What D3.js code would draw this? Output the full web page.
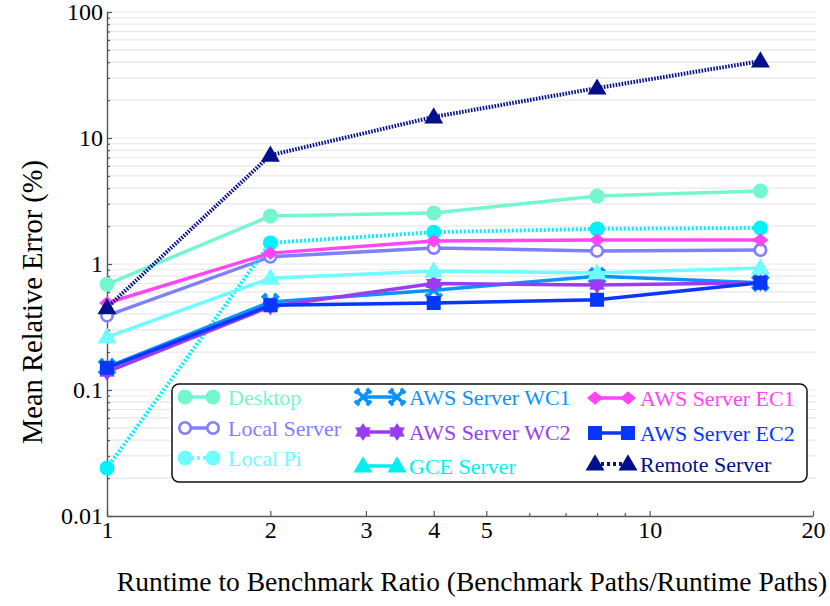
<!DOCTYPE html>
<html>
<head>
<meta charset="utf-8">
<script src="https://cdn.jsdelivr.net/npm/d3@7"></script>
<style>
  body { margin: 0; background: #fff; }
</style>
</head>
<body>
<svg id="chart"></svg>
<script>
// runtime to benchmark ratio
const ratios = [1, 2, 4, 8, 16]

const desktop      = [0.69, 2.40, 2.54, 3.46, 3.80]
const localServer  = [0.39, 1.14, 1.34, 1.27, 1.29]
const localPi      = [0.024, 1.47, 1.79, 1.90, 1.93]
const awsWC1       = [0.152, 0.50, 0.62, 0.80, 0.71]
const awsWC2       = [0.139, 0.46, 0.70, 0.68, 0.71]
const gceServer    = [0.263, 0.77, 0.88, 0.85, 0.93]
const awsEC1       = [0.49, 1.22, 1.52, 1.55, 1.55]
const awsEC2       = [0.15, 0.47, 0.49, 0.52, 0.71]
const remoteServer = [0.45, 7.3, 14.7, 24.9, 40.8]

const seriesNames = ["Desktop", "Local Server", "Local Pi", "AWS Server WC1", "AWS Server WC2",
  "GCE Server", "AWS Server EC1", "AWS Server EC2", "Remote Server"]

const yMajor = [0.01, 0.1, 1, 10, 100]
const xLabels = [1, 2, 3, 4, 5, 10, 20]
const xMinor = [6, 7, 8, 9]

const svgWidth = 830, svgHeight = 606
const serif = "Liberation Serif"

// custom marker shapes (size = approx width in px)
const shapes = {
  circle: (s) => d3.symbol(d3.symbolCircle, Math.PI * (s / 2) * (s / 2))(),
  triangle: (s) => {
    const h = s * 0.85
    return `M0,${-h * 0.6}L${s / 2},${h * 0.4}L${-s / 2},${h * 0.4}Z`
  },
  square: (s) => `M${-s / 2},${-s / 2}h${s}v${s}h${-s}Z`,
  diamond: (s) => `M0,${-s * 0.42}L${s / 2},0L0,${s * 0.42}L${-s / 2},0Z`,
  star6: (s) => {
    const r = s / 2, p = []
    for (let i = 0; i < 12; i++) {
      const a = Math.PI / 6 * i - Math.PI / 2
      const rr = i % 2 === 0 ? r : r * 0.6
      p.push([rr * Math.cos(a), rr * Math.sin(a)])
    }
    return "M" + p.map(d => d.join(",")).join("L") + "Z"
  },
  cross: (s) => {
    const r = s / 2 - 1.5, e = 2.2
    return `M${-r},${-r}L${r},${r}M${r},${-r}L${-r},${r}` +
      `M${-r - e},${-r + e}L${-r + e},${-r - e}M${r - e},${-r - e}L${r + e},${-r + e}` +
      `M${-r - e},${r - e}L${-r + e},${r + e}M${r - e},${r + e}L${r + e},${r - e}`
  }
}

const series = [
  { name: seriesNames[0], values: desktop, color: "#74f6d0", legendColor: "#74f6d0", shape: "circle", size: 15, dash: null },
  { name: seriesNames[1], values: localServer, color: "#7f7fff", legendColor: "#7f7fff", shape: "circle", size: 14, dash: null, open: true },
  { name: seriesNames[2], values: localPi, color: "#00f2ff", legendColor: "#6ffcff", shape: "circle", size: 15, dash: "2,2" },
  { name: seriesNames[3], values: awsWC1, color: "#0a92ff", legendColor: "#0a92ff", shape: "cross", size: 15, dash: null, stroked: true },
  { name: seriesNames[4], values: awsWC2, color: "#9a3cf6", legendColor: "#9a3cf6", shape: "star6", size: 18, dash: null },
  { name: seriesNames[5], values: gceServer, color: "#6ffcff", legendColor: "#00f0f2", shape: "triangle", size: 19, dash: null },
  { name: seriesNames[6], values: awsEC1, color: "#ff45f5", legendColor: "#ff45f5", shape: "diamond", size: 16, dash: null },
  { name: seriesNames[7], values: awsEC2, color: "#0736ff", legendColor: "#0736ff", shape: "square", size: 14, dash: null },
  { name: seriesNames[8], values: remoteServer, color: "#03108c", legendColor: "#03108c", shape: "triangle", size: 19, dash: "1.6,1.4" }
]

const x = d3.scaleLog().domain([1, 20]).range([107, 813])
const y = d3.scaleLog().domain([0.01, 100]).range([516, 12])

const svg = d3.select("#chart")
  .attr("width", svgWidth)
  .attr("height", svgHeight)

// horizontal grid at every minor/major value
const gridVals = []
yMajor.forEach((m, i) => {
  if (i < yMajor.length - 1) for (let k = 1; k < 10; k++) gridVals.push(m * k)
  else gridVals.push(m)
})
svg.append("g")
  .selectAll("line")
  .data(gridVals.filter(v => v > 0.01))
  .join("line")
  .attr("x1", x(1)).attr("x2", 816)
  .attr("y1", d => y(d)).attr("y2", d => y(d))
  .attr("stroke", "#e8e8e8")
  .attr("stroke-width", 1.2)

// axes
svg.append("g")
  .attr("transform", `translate(${x(1)},0)`)
  .call(d3.axisLeft(y).tickValues(yMajor).tickFormat(d3.format("~g")).tickSize(-5).tickPadding(4).tickSizeOuter(0))
svg.append("g")
  .attr("transform", `translate(${x(1)},0)`)
  .call(d3.axisLeft(y).tickValues(gridVals.filter(v => !yMajor.includes(v))).tickFormat("").tickSize(-3).tickSizeOuter(0))
  .call(g => g.select(".domain").remove())

const xAxis = svg.append("g")
  .attr("transform", `translate(0,${y(0.01)})`)
  .call(d3.axisBottom(x).tickValues(xLabels).tickFormat(d3.format("d")).tickSize(-5).tickPadding(3).tickSizeOuter(0))
svg.append("g")
  .attr("transform", `translate(0,${y(0.01)})`)
  .call(d3.axisBottom(x).tickValues(xMinor).tickFormat("").tickSize(-3).tickSizeOuter(0))
  .call(g => g.select(".domain").remove())

svg.selectAll("g").attr("font-family", serif)
svg.selectAll(".domain").attr("stroke", "#555").attr("stroke-width", 1.4)
svg.selectAll(".tick line").attr("stroke", "#555").attr("stroke-width", 1.2)
svg.selectAll(".tick text")
  .attr("fill", "#000")
  .attr("font-family", serif)
  .attr("font-size", 24)
xAxis.selectAll(".tick text").attr("dy", "0.78em")

// axis titles
svg.append("text")
  .attr("x", 472).attr("y", 591)
  .attr("text-anchor", "middle")
  .attr("font-family", serif)
  .attr("font-size", 27.5)
  .text("Runtime to Benchmark Ratio (Benchmark Paths/Runtime Paths)")

svg.append("text")
  .attr("transform", "translate(42,302) rotate(-90)")
  .attr("text-anchor", "middle")
  .attr("font-family", serif)
  .attr("font-size", 28.5)
  .text("Mean Relative Error (%)")

// lines
const line = d3.line()
  .x((d, i) => x(ratios[i]))
  .y(d => y(d))

function drawMarker(sel, s, color) {
  sel.attr("d", shapes[s.shape](s.size))
  if (s.open) {
    sel.attr("fill", "#fff").attr("stroke", color).attr("stroke-width", 2.6)
    sel.attr("d", shapes.circle(s.size - 2.6))
  } else if (s.stroked) {
    sel.attr("fill", "none").attr("stroke", color).attr("stroke-width", 3.6)
  } else {
    sel.attr("fill", color).attr("stroke", "none")
  }
}

series.forEach(s => {
  const g = svg.append("g")
  g.append("path")
    .datum(s.values)
    .attr("fill", "none")
    .attr("stroke", s.color)
    .attr("stroke-width", s.dash ? 4 : 3.5)
    .attr("stroke-dasharray", s.dash)
    .attr("d", line)
  g.selectAll("path.mk")
    .data(s.values)
    .join("path")
    .attr("class", "mk")
    .attr("transform", (d, i) => `translate(${x(ratios[i])},${y(d)})`)
    .each(function () { drawMarker(d3.select(this), s, s.color) })
})

// legend
const legend = svg.append("g")
legend.append("rect")
  .attr("x", 172).attr("y", 384)
  .attr("width", 635).attr("height", 98)
  .attr("rx", 7)
  .attr("fill", "#fff")
  .attr("stroke", "#111")
  .attr("stroke-width", 1.5)

const colX = [[185, 213, 228], [363, 397, 409], [595, 628, 640]]
const rowY = [[397, 428, 458], [397, 432, 466], [398, 433, 464]]

series.forEach((s, i) => {
  const c = Math.floor(i / 3), r = i % 3
  const [x1, x2, tx] = colX[c]
  const ly = rowY[c][r]
  const g = legend.append("g")
  g.append("line")
    .attr("x1", x1).attr("x2", x2)
    .attr("y1", ly).attr("y2", ly)
    .attr("stroke", s.legendColor)
    .attr("stroke-width", s.dash ? 4 : 3.5)
    .attr("stroke-dasharray", s.dash ? "3,3" : null)
  ;[x1, x2].forEach(px => {
    g.append("path")
      .attr("transform", `translate(${px},${ly})`)
      .each(function () { drawMarker(d3.select(this), s, s.legendColor) })
  })
  g.append("text")
    .attr("x", tx).attr("y", ly)
    .attr("dy", "0.35em")
    .attr("fill", s.legendColor)
    .attr("font-family", serif)
    .attr("font-size", 22)
    .text(s.name)
})
</script>
</body>
</html>
